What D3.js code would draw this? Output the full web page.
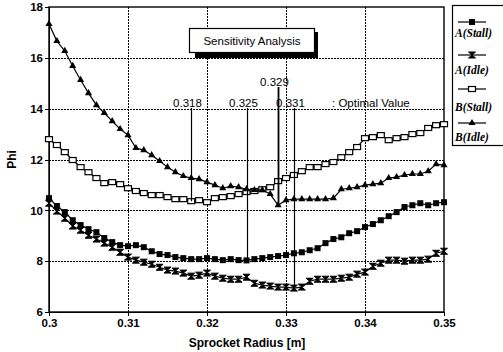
<!DOCTYPE html>
<meta charset="utf-8">
<style>
    body { margin: 0; background: #fff; }
    svg { font-family: "Liberation Sans", Arial, sans-serif; }
    .axis path, .axis line { fill: none; stroke: black; shape-rendering: crispEdges; }
    .axis text { font-size: 11.5px; font-weight: bold; fill: #000; }
    .grid line { stroke: #000; stroke-dasharray: 1.5,1.5; shape-rendering: crispEdges; }
</style>
<body>
<script src="https://cdn.jsdelivr.net/npm/d3@7"></script>
<script>
    // sprocket radius, 0.300 .. 0.350 in steps of 0.001
    const radius = d3.range(51).map(i => +(0.3 + i * 0.001).toFixed(3));

    const aStall = [10.48, 10.17, 9.93, 9.61, 9.42, 9.26, 9.14, 8.91, 8.75, 8.63,
        8.59, 8.63, 8.55, 8.39, 8.28, 8.24, 8.16, 8.12, 8.08, 8.08,
        8.12, 8.08, 8.04, 8.08, 8.04, 8.03, 8.08, 8.12, 8.16, 8.2,
        8.24, 8.31, 8.35, 8.43, 8.51, 8.71, 8.87, 8.94, 9.1, 9.18,
        9.34, 9.46, 9.61, 9.77, 9.93, 10.13, 10.2, 10.28, 10.2, 10.28, 10.32];

    const aIdle = [10.28, 9.97, 9.69, 9.38, 9.22, 9.02, 8.87, 8.71, 8.55, 8.35,
        8.16, 8.04, 7.96, 7.88, 7.76, 7.65, 7.61, 7.53, 7.41, 7.45,
        7.53, 7.41, 7.33, 7.29, 7.29, 7.37, 7.13, 7.06, 7.02, 6.98,
        6.98, 6.94, 6.98, 7.21, 7.29, 7.29, 7.29, 7.33, 7.37, 7.49,
        7.57, 7.8, 7.92, 8.04, 8.04, 8.0, 8.04, 8.04, 8.08, 8.31, 8.39];

    const bStall = [12.8, 12.57, 12.29, 11.98, 11.7, 11.5, 11.27, 11.07, 11.11, 11.03,
        10.87, 10.76, 10.68, 10.6, 10.6, 10.52, 10.44, 10.44, 10.36, 10.4,
        10.32, 10.48, 10.52, 10.56, 10.64, 10.72, 10.76, 10.83, 10.91, 11.15,
        11.27, 11.39, 11.54, 11.7, 11.7, 11.82, 11.9, 12.09, 12.29, 12.49,
        12.84, 12.88, 12.96, 12.76, 12.84, 12.88, 13.0, 13.04, 13.24, 13.35, 13.39];

    const bIdle = [17.33, 16.66, 16.27, 15.68, 15.13, 14.61, 14.14, 13.83, 13.51, 13.2,
        12.96, 12.45, 12.37, 12.17, 11.94, 11.7, 11.5, 11.35, 11.27, 11.23,
        11.11, 10.99, 10.87, 10.95, 10.91, 10.83, 10.8, 10.8, 10.64, 10.2,
        10.4, 10.44, 10.44, 10.44, 10.44, 10.44, 10.48, 10.83, 10.87, 10.91,
        10.99, 11.03, 11.07, 11.27, 11.31, 11.39, 11.43, 11.43, 11.54, 11.82, 11.78];

    const seriesNames = ["A(Stall)", "A(Idle)", "B(Stall)", "B(Idle)"];
    const seriesValues = [aStall, aIdle, bStall, bIdle];

    // optimal radius marked for each series (same order as above)
    const optimalR = [0.325, 0.331, 0.318, 0.329];

    const xTicks = [0.3, 0.31, 0.32, 0.33, 0.34, 0.35];
    const yTicks = [6, 8, 10, 12, 14, 16, 18];

    const width = 503, height = 352;
    const x = d3.scaleLinear().domain([0.3, 0.35]).range([49, 444]);
    const y = d3.scaleLinear().domain([6, 18]).range([312, 7]);

    const svg = d3.select('body').append('svg')
        .attr('width', width)
        .attr('height', height);

    // dotted grid
    const grid = svg.append('g').attr('class', 'grid');
    grid.selectAll('.gx').data(xTicks.slice(1, -1)).enter().append('line')
        .attr('x1', d => Math.round(x(d)) + 0.5).attr('x2', d => Math.round(x(d)) + 0.5)
        .attr('y1', y(18)).attr('y2', y(6));
    grid.selectAll('.gy').data(yTicks.slice(1, -1)).enter().append('line')
        .attr('y1', d => Math.round(y(d)) + 0.5).attr('y2', d => Math.round(y(d)) + 0.5)
        .attr('x1', x(0.3)).attr('x2', x(0.35));

    // axes
    svg.append('g').attr('class', 'x axis')
        .attr('transform', 'translate(0,' + y(6) + ')')
        .call(d3.axisBottom(x).tickValues(xTicks).tickFormat(d3.format('')).tickSize(4).tickPadding(3));
    svg.append('g').attr('class', 'y axis')
        .attr('transform', 'translate(' + x(0.3) + ',0)')
        .call(d3.axisLeft(y).tickValues(yTicks).tickSize(4).tickPadding(2));

    // frame
    svg.append('rect')
        .attr('x', x(0.3)).attr('y', y(18))
        .attr('width', x(0.35) - x(0.3)).attr('height', y(6) - y(18))
        .style('fill', 'none').style('stroke', 'black').style('stroke-width', 1.4);

    svg.append('text')
        .attr('transform', 'translate(16,' + y(12) + ') rotate(-90)')
        .style('text-anchor', 'middle').style('font-size', '12px').style('font-weight', 'bold')
        .text('Phi');
    svg.append('text')
        .attr('x', 247).attr('y', 347)
        .style('text-anchor', 'middle').style('font-size', '12px').style('font-weight', 'bold')
        .text('Sprocket Radius [m]');

    // marker shapes
    const markers = [
        g => g.append('rect').attr('x', -3).attr('y', -3).attr('width', 6).attr('height', 6).style('fill', 'black'),
        g => g.append('path').attr('d', 'M-3.5,-3L3.5,-3L-3.5,3L3.5,3Z').style('fill', 'black').style('stroke', 'black').style('stroke-width', 1),
        g => g.append('rect').attr('x', -3.5).attr('y', -2.5).attr('width', 7).attr('height', 5).style('fill', 'white').style('stroke', 'black').style('stroke-width', 1.2),
        g => g.append('path').attr('d', d3.symbol(d3.symbolTriangle, 22)()).style('fill', 'black')
    ];

    const line = d3.line().x((d, i) => x(radius[i])).y(d => y(d));

    seriesValues.forEach((vals, k) => {
        svg.append('path')
            .datum(vals)
            .attr('d', line)
            .style('fill', 'none').style('stroke', 'black').style('stroke-width', 1.2);
        svg.append('g').selectAll('g')
            .data(vals).enter().append('g')
            .attr('transform', (d, i) => 'translate(' + x(radius[i]) + ',' + y(d) + ')')
            .each(function () { markers[k](d3.select(this)); });
    });

    // optimal value markers
    const labelY = [107, 107, 107, 86];
    optimalR.forEach((r, k) => {
        const v = seriesValues[k][radius.indexOf(r)];
        const xp = Math.round(x(r)) + 0.5;
        svg.append('line')
            .attr('x1', xp).attr('x2', xp)
            .attr('y1', labelY[k] + 1).attr('y2', y(v))
            .style('stroke', 'black').style('stroke-width', k === 3 ? 1.8 : 1.2);
        svg.append('text')
            .attr('x', xp - 4).attr('y', labelY[k])
            .style('text-anchor', 'middle').style('font-size', '11.5px')
            .text(r.toFixed(3));
    });
    svg.append('text')
        .attr('x', 332).attr('y', 107)
        .style('font-size', '11.5px')
        .text(': Optimal Value');

    // title box with shadow
    svg.append('rect').attr('x', 195).attr('y', 32).attr('width', 123).attr('height', 26).style('fill', 'black');
    svg.append('rect').attr('x', 189.5).attr('y', 28.5).attr('width', 125).attr('height', 24)
        .style('fill', 'white').style('stroke', 'black').style('stroke-width', 1.2);
    svg.append('text')
        .attr('x', 252).attr('y', 45)
        .style('text-anchor', 'middle').style('font-size', '11.5px')
        .text('Sensitivity Analysis');

    // legend
    const legendY = [22, 55, 89, 123];
    const legend = svg.append('g').attr('class', 'legend');
    legend.append('rect')
        .attr('x', 452.5).attr('y', 5.5).attr('width', 60).attr('height', 140)
        .style('fill', 'white').style('stroke', 'black').style('stroke-width', 1.2);
    const entry = legend.selectAll('.entry')
        .data(seriesNames).enter().append('g')
        .attr('class', 'entry');
    entry.append('line')
        .attr('x1', 458).attr('x2', 486)
        .attr('y1', (d, i) => legendY[i]).attr('y2', (d, i) => legendY[i])
        .style('stroke', 'black').style('stroke-width', 1.2);
    entry.append('g')
        .attr('transform', (d, i) => 'translate(472,' + legendY[i] + ')')
        .each(function (d, i) { markers[i](d3.select(this)); });
    entry.append('text')
        .attr('x', 455)
        .attr('y', (d, i) => [37, 74, 111, 141][i])
        .style('font-family', '"Liberation Serif", serif')
        .style('font-style', 'italic')
        .style('font-weight', 'bold')
        .style('font-size', '11.5px')
        .text(d => d);
</script>
</body>
</html>
